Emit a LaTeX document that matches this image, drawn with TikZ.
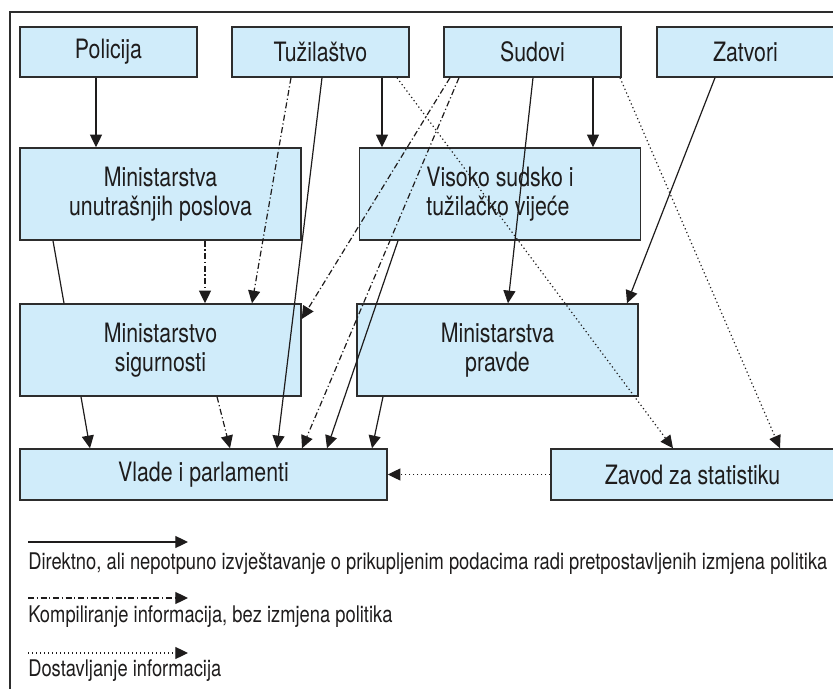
\documentclass[tikz,border=0pt]{standalone}
\usepackage{fontspec}
\setmainfont{TeX Gyre Heros}[FakeStretch=0.8]
\usetikzlibrary{arrows.meta,calc}
\definecolor{boxfill}{RGB}{208,236,250}
\definecolor{boxline}{RGB}{45,45,45}
\definecolor{inkgray}{RGB}{30,28,28}
\tikzset{
	box/.style={draw=boxline,fill=boxfill,line width=1.1pt,inner sep=0pt,align=center,text=inkgray,font=\fontsize{20}{22}\selectfont},
	arrowed/.style={-{Triangle[length=9.5pt,width=9pt]}},
	solidln/.style={inkgray,line width=0.9pt},
	dashdot/.style={inkgray,line width=0.9pt,dash pattern=on 4.5pt off 2pt on 0.9pt off 2pt},
	dotln/.style={inkgray,line width=0.9pt,dash pattern=on 0.9pt off 2.1pt},
	legtext/.style={anchor=base west,inner sep=0pt,text=inkgray,font=\fontsize{17.2}{20}\selectfont}
}

\begin{document}
\begin{tikzpicture}[x=0.75pt,y=-0.75pt]
			%%%%% START %%%%%
			\def\px{0.75pt}
			\def\wtop{177}
			\def\htop{50}
			\def\wmid{281}
			\def\hmid{92}
			
			\useasboundingbox (0,0) rectangle (833,689);
			\draw[boxline,line width=1.1pt] (850,12) -- (10,12) -- (10,700);
			
			% top row
			\node[box,minimum width=\wtop*\px,minimum height=\htop*\px] (pol) at (108.5,52) {Policija};
			\node[box,minimum width=\wtop*\px,minimum height=\htop*\px] (tuz) at (320.5,52) {Tužilaštvo};
			\node[box,minimum width=\wtop*\px,minimum height=\htop*\px] (sud) at (532.5,52) {Sudovi};
			\node[box,minimum width=\wtop*\px,minimum height=\htop*\px] (zat) at (745.5,52) {Zatvori};
			
			% ministries and councils
			\node[box,minimum width=\wmid*\px,minimum height=\hmid*\px] (mup) at (160.5,194) {Ministarstva\\unutrašnjih poslova};
			\node[box,minimum width=\wmid*\px,minimum height=\hmid*\px,align=left] (vis) at (500,194) {Visoko sudsko i\\tužilačko vijeće};
			\node[box,minimum width=\wmid*\px,minimum height=\hmid*\px] (ms) at (160.5,350) {Ministarstvo\\sigurnosti};
			\node[box,minimum width=\wmid*\px,minimum height=\hmid*\px] (mp) at (497.5,350) {Ministarstva\\pravde};
			
			% bottom row
			\node[box,minimum width=367*\px,minimum height=51*\px] (vla) at (203.5,474.5) {Vlade i parlamenti};
			\node[box,minimum width=283*\px,minimum height=51*\px] (zav) at (692.5,474.5) {Zavod za statistiku};
			
			% connectors
			\draw[solidln,arrowed] (pol.south -| 96,0) -- (mup.north -| 96,0);
			\draw[solidln,arrowed] (tuz.south -| 382,0) -- (vis.north -| 382,0);
			\draw[solidln,arrowed] (sud.south -| 593,0) -- (vis.north -| 593,0);
			\draw[dashdot,arrowed] (tuz.south -| 291,0) -- (ms.north -| 252,0);
			\draw[solidln,arrowed] (tuz.south -| 322,0) -- (vla.north -| 277,0);
			\draw[dotln,arrowed] (tuz.south -| 397,0) -- (zav.north -| 673,0);
			\draw[dashdot,arrowed] (sud.south -| 450,0) -- (ms.east |- 0,319);
			\draw[dashdot,arrowed] (sud.south -| 459,0) -- (vla.north -| 302,0);
			\draw[solidln,arrowed] (sud.south -| 533,0) -- (mp.north -| 508,0);
			\draw[dotln,arrowed] (sud.south -| 620,0) -- (zav.north -| 780,0);
			\draw[solidln,arrowed] (zat.south -| 715,0) -- (mp.north -| 627,0);
			\draw[solidln] (mup.south -| 53,0) -- (ms.north -| 64,0);
			\draw[dashdot,arrowed] (mup.south -| 205,0) -- (ms.north -| 205,0);
			\draw[solidln,arrowed] (ms.south -| 81,0) -- (vla.north -| 90,0);
			\draw[dashdot,arrowed] (ms.south -| 217,0) -- (vla.north -| 230,0);
			\draw[solidln,arrowed] (vis.south -| 398,0) -- (vla.north -| 327,0);
			\draw[solidln,arrowed] (mp.south -| 383,0) -- (vla.north -| 372,0);
			\draw[dotln,arrowed] (zav.west) -- (vla.east);
			
			% legend
			\coordinate (k1a) at (28,542);
			\coordinate (k1b) at (188,542);
			\coordinate (k2a) at (28,598);
			\coordinate (k2b) at (188,598);
			\coordinate (k3a) at (28,653);
			\coordinate (k3b) at (188,653);
			\draw[solidln,arrowed] (k1a) -- (k1b);
			\draw[dashdot,arrowed] (k2a) -- (k2b);
			\draw[dotln,arrowed] (k3a) -- (k3b);
			\node[legtext] (t1) at (28,569) {Direktno, ali nepotpuno izvještavanje o prikupljenim podacima radi pretpostavljenih izmjena politika};
			\node[legtext] (t2) at (28,622) {Kompiliranje informacija, bez izmjena politika};
			\node[legtext] (t3) at (28,676) {Dostavljanje informacija};
			%%%%% END %%%%%
		\end{tikzpicture}
\end{document}
